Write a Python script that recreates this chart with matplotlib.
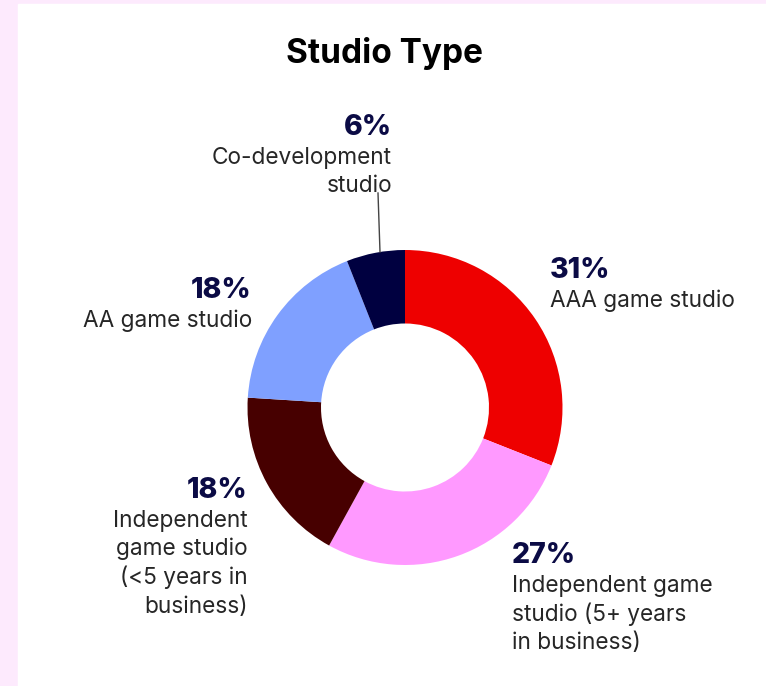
import matplotlib.pyplot as plt
from matplotlib.patches import Rectangle

# studio type shares, clockwise from 12 o'clock
names = ["AAA game studio",
         "Independent game\nstudio (5+ years\nin business)",
         "Independent\ngame studio\n(<5 years in\nbusiness)",
         "AA game studio",
         "Co-development\nstudio"]
shares = [31, 27, 18, 18, 6]
colors = ["#ee0000", "#ff99ff", "#470000", "#7fa0ff", "#000040"]

# label anchors in pixels (x, baseline of the percent line), alignment
label_pos = [(550, 278, "left"), (512, 563, "left"), (248, 498, "right"),
             (252, 298, "right"), (392, 135, "right")]

W, H = 766, 686
fig = plt.figure(figsize=(W / 100, H / 100), dpi=100, facecolor="#fdeafd")
ax = fig.add_axes([0, 0, 1, 1])

font = "Inter"
navy = "#0b0b45"

cx, cy, R = 405, H - 407.5, 157.5
ax.pie(shares, colors=colors, startangle=90, counterclock=False,
       radius=R, center=(cx, cy), frame=True,
       wedgeprops=dict(width=73.5, linewidth=0))
ax.set_xlim(0, W)
ax.set_ylim(0, H)
ax.set_aspect("equal")
ax.axis("off")

# white card
ax.add_patch(Rectangle((18, 0), W - 18 + 2, H - 4, color="white", zorder=0))

ax.text(385, H - 63, "Studio Type", ha="center", va="baseline",
        fontsize=24, fontweight="bold", color="black", family=font)

for name, val, (x, y, ha) in zip(names, shares, label_pos):
    ax.text(x, H - y, f"{val}%", ha=ha, va="baseline", fontsize=20.5,
            fontweight="heavy", color=navy, family=font)
    for i, line in enumerate(name.split("\n")):
        ax.text(x, H - (y + 29 + 28.5 * i), line, ha=ha, va="baseline",
                fontsize=16.3, color="#262626", family=font)

# leader line for the small co-development slice
ax.plot([378, 380], [H - 193, H - 252], color="#444444", lw=1)

fig.savefig("out.png", dpi=100, facecolor=fig.get_facecolor())
